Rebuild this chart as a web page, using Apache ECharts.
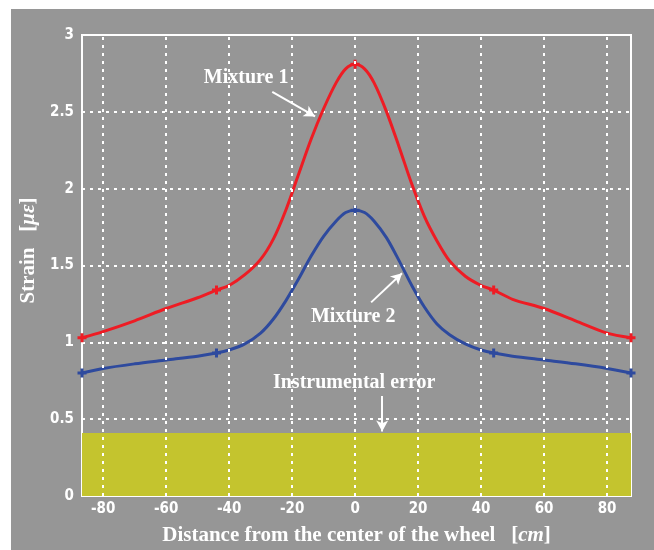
<!DOCTYPE html>
<html>
<head>
<meta charset="utf-8">
<script src="https://cdn.jsdelivr.net/npm/echarts@6/dist/echarts.min.js"></script>
<style>
  html, body { margin: 0; padding: 0; background: #fff; }
  #main { width: 654px; height: 550px; }
</style>
</head>
<body>
<div id="main"></div>
<script>
// distance from wheel centre (cm)
const distances = [-86.7, -80, -70, -60, -50, -44, -40, -35, -30, -26, -22, -18, -14, -10, -6, -3, 0,
  3, 6, 10, 14, 18, 22, 26, 30, 35, 40, 44, 50, 60, 70, 80, 87.6];
const mixture1 = [1.03, 1.07, 1.14, 1.22, 1.29, 1.34, 1.37, 1.44, 1.54, 1.67, 1.86, 2.09, 2.32, 2.52, 2.69, 2.78, 2.81,
  2.78, 2.69, 2.50, 2.27, 2.03, 1.82, 1.66, 1.53, 1.43, 1.37, 1.34, 1.28, 1.22, 1.14, 1.06, 1.03];
const mixture2 = [0.80, 0.83, 0.86, 0.885, 0.91, 0.93, 0.95, 0.99, 1.06, 1.15, 1.27, 1.41, 1.56, 1.69, 1.79, 1.845, 1.86,
  1.845, 1.79, 1.68, 1.53, 1.37, 1.23, 1.12, 1.05, 0.99, 0.95, 0.93, 0.91, 0.885, 0.86, 0.83, 0.80];
const markerDistances = [-86.7, -44, 0, 44, 87.6];
const xTicks = [-80, -60, -40, -20, 0, 20, 40, 60, 80];
const instrumentalError = 0.41;

// annotation text and arrows (data coordinates)
const labels = [
  { text: 'Mixture 1', at: [-34.6, 2.72] },
  { text: 'Mixture 2', at: [-0.6, 1.165] },
  { text: 'Instrumental error', at: [-0.3, 0.735] }
];
const arrows = [
  [[-26.3, 2.63], [-12.7, 2.47]],
  [[5.1, 1.26], [14.9, 1.45]],
  [[8.6, 0.65], [8.6, 0.42]]
];

const xMin = -86.7, xMax = 87.6;
const plus = 'path://M3,0h3v3h3v3h-3v3h-3v-3h-3v-3h3z';
const serif = '"Liberation Serif", "DejaVu Serif", serif';
const narrow = '"DejaVu Sans Condensed", "Liberation Sans Narrow", sans-serif';
const gridLine = { color: '#fff', width: 2, type: [3, 5] };
const boldSerif = { color: '#fff', fontFamily: serif, fontWeight: 'bold', fontSize: 21 };

function buildLine(values) {
  return distances.map((d, i) => {
    const item = { value: [d, values[i]] };
    if (markerDistances.indexOf(d) >= 0) {
      item.symbol = plus;
      item.symbolSize = 9;
    }
    return item;
  });
}

var chart = echarts.init(document.getElementById('main'), null, { renderer: 'canvas' });

chart.setOption({
  animation: false,
  backgroundColor: '#fff',
  graphic: [{
    type: 'rect', z: -10, silent: true,
    shape: { x: 11, y: 9, width: 643, height: 541 },
    style: { fill: '#969696' }
  }],
  grid: {
    left: 82, right: 23, top: 35, bottom: 54,
    outerBoundsMode: 'none', containLabel: false,
    show: true, borderColor: '#fff', borderWidth: 2, backgroundColor: 'transparent'
  },
  xAxis: {
    type: 'value', min: xMin, max: xMax,
    name: '{t|Distance from the center of the wheel}{t|   [}{i|cm}{t|]}',
    nameLocation: 'middle', nameGap: 29,
    nameTextStyle: {
      rich: { t: boldSerif, i: Object.assign({}, boldSerif, { fontStyle: 'italic' }) }
    },
    axisLine: { show: false },
    axisTick: { show: false, customValues: xTicks },
    axisLabel: {
      customValues: xTicks,
      color: '#fff', fontFamily: narrow, fontWeight: 'bold', fontSize: 15, margin: 6
    },
    splitLine: { show: false }
  },
  yAxis: {
    type: 'value', min: 0, max: 3, interval: 0.5,
    name: '{t|Strain}{t|   [}{i|με}{t|]}',
    nameLocation: 'middle', nameGap: 43, nameRotate: 90,
    nameTextStyle: {
      padding: [0, 0, 0, 30],
      rich: { t: boldSerif, i: Object.assign({}, boldSerif, { fontStyle: 'italic' }) }
    },
    axisLine: { show: false },
    axisTick: { show: false },
    axisLabel: {
      color: '#fff', fontFamily: narrow, fontWeight: 'bold', fontSize: 15, margin: 8,
      formatter: v => String(v)
    },
    splitLine: { lineStyle: gridLine }
  },
  series: [
    {
      name: 'xgrid', type: 'line', data: [], silent: true, z: 1,
      markLine: {
        silent: true, symbol: 'none', label: { show: false },
        lineStyle: gridLine,
        data: xTicks.map(v => ({ xAxis: v }))
      }
    },
    {
      name: 'Instrumental error', type: 'line', data: [], silent: true, z: 2,
      markArea: {
        silent: true,
        itemStyle: { color: '#C4C42E', opacity: 1 },
        data: [[{ coord: [xMin, 0] }, { coord: [xMax, instrumentalError] }]]
      }
    },
    {
      name: 'Mixture 1', type: 'line', smooth: 0.3, symbol: 'none', z: 3,
      lineStyle: { color: '#EE1C24', width: 3 },
      itemStyle: { color: '#EE1C24' },
      data: buildLine(mixture1)
    },
    {
      name: 'Mixture 2', type: 'line', smooth: 0.3, symbol: 'none', z: 3,
      lineStyle: { color: '#2E4A9E', width: 3 },
      itemStyle: { color: '#2E4A9E' },
      data: buildLine(mixture2)
    },
    {
      name: 'notes', type: 'scatter', symbolSize: 0, silent: true, z: 5,
      itemStyle: { opacity: 1 },
      data: labels.map(l => ({ value: l.at, name: l.text })),
      label: {
        show: true, position: 'inside', formatter: p => p.name,
        color: '#fff', fontFamily: serif, fontWeight: 'bold', fontSize: 20
      },
      markLine: {
        silent: true, symbol: ['none', 'arrow'], symbolSize: [9, 11],
        label: { show: false },
        lineStyle: { color: '#fff', width: 2, type: 'solid', opacity: 1 },
        data: arrows.map(a => [{ coord: a[0] }, { coord: a[1] }])
      }
    }
  ]
});
</script>
</body>
</html>
